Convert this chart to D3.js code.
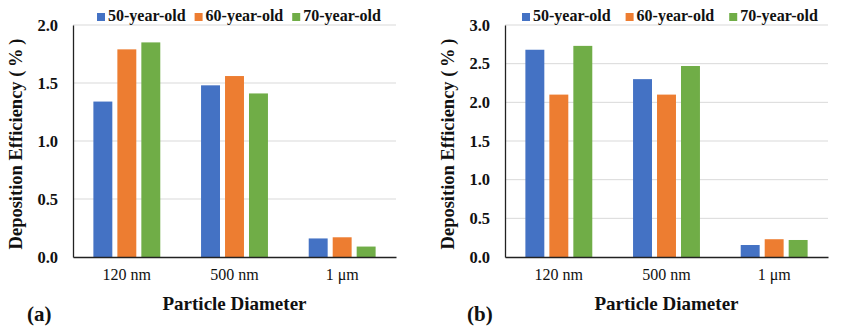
<!DOCTYPE html>
<html>
<head>
<meta charset="utf-8">
<script src="https://cdn.jsdelivr.net/npm/d3@7"></script>
<style>
  body { margin: 0; background: #fff; }
</style>
</head>
<body>
<svg id="chart" width="845" height="329"></svg>
<script>
const categories = ["120 nm", "500 nm", "1 \u03bcm"];
const series = ["50-year-old", "60-year-old", "70-year-old"];
const colors = ["#4472C4", "#ED7D31", "#70AD47"];

// panel (a)
const valuesA = {
    "50-year-old": [1.34, 1.48, 0.16],
    "60-year-old": [1.79, 1.56, 0.17],
    "70-year-old": [1.85, 1.41, 0.09]
};
const ticksA = [0, 0.5, 1.0, 1.5, 2.0];

// panel (b)
const valuesB = {
    "50-year-old": [2.68, 2.30, 0.155],
    "60-year-old": [2.10, 2.10, 0.23],
    "70-year-old": [2.73, 2.47, 0.22]
};
const ticksB = [0, 0.5, 1.0, 1.5, 2.0, 2.5, 3.0];

const FONT = "'Liberation Serif', 'Times New Roman', 'DejaVu Serif', serif";

const svg = d3.select("#chart")
    .attr("font-family", FONT);

function drawPanel(opts) {
    const g = svg.append("g");
    const top = 25, bottom = 257;

    const y = d3.scaleLinear()
        .domain([0, opts.max])
        .range([bottom, top]);

    const x0 = d3.scaleBand()
        .domain(categories)
        .range([opts.left, opts.right]);

    const x1 = d3.scaleBand()
        .domain(series)
        .range([0, x0.bandwidth()])
        .paddingInner(0.21)
        .paddingOuter(0.85);

    // gridlines
    g.append("g")
        .selectAll("line")
        .data(opts.ticks.filter(d => d > 0))
        .enter().append("line")
        .attr("x1", opts.left)
        .attr("x2", opts.right)
        .attr("y1", d => y(d))
        .attr("y2", d => y(d))
        .attr("stroke", "#d9d9d9")
        .attr("stroke-width", 1);

    // bars
    series.forEach(function(s, i) {
        g.append("g")
            .selectAll("rect")
            .data(opts.values[s])
            .enter().append("rect")
            .attr("x", (d, j) => x0(categories[j]) + x1(s))
            .attr("y", d => y(d))
            .attr("width", x1.bandwidth())
            .attr("height", d => bottom - y(d))
            .attr("fill", colors[i]);
    });

    // y axis
    const yAxis = d3.axisLeft(y)
        .tickValues(opts.ticks)
        .tickFormat(d3.format(".1f"))
        .tickSize(0)
        .tickPadding(15);
    const ya = g.append("g")
        .attr("transform", "translate(" + opts.left + ",0)")
        .call(yAxis)
        .attr("font-family", FONT)
        .attr("font-size", 16.5)
        .attr("font-weight", "bold");
    ya.select(".domain").attr("stroke", "#222").attr("stroke-width", 1.3);
    ya.selectAll("text").attr("fill", "#111");

    // x axis
    const xAxis = d3.axisBottom(x0).tickSize(0).tickPadding(12);
    const xa = g.append("g")
        .attr("transform", "translate(0," + bottom + ")")
        .call(xAxis)
        .attr("font-family", FONT)
        .attr("font-size", 16);
    xa.select(".domain").attr("stroke", "#222").attr("stroke-width", 1.5);
    xa.selectAll("text").attr("fill", "#111");

    // axis titles
    g.append("text")
        .attr("transform", "translate(" + (opts.left - 51) + "," + ((top + bottom) / 2 + 3) + ") rotate(-90)")
        .attr("text-anchor", "middle")
        .attr("font-size", 18.5)
        .attr("font-weight", "bold")
        .attr("fill", "#111")
        .text("Deposition Efficiency (\u2009%\u2009)");

    g.append("text")
        .attr("x", (opts.left + opts.right) / 2)
        .attr("y", 310)
        .attr("text-anchor", "middle")
        .attr("font-size", 19)
        .attr("font-weight", "bold")
        .attr("fill", "#111")
        .text("Particle Diameter");

    g.append("text")
        .attr("x", opts.labelX)
        .attr("y", 321)
        .attr("font-size", 21)
        .attr("font-weight", "bold")
        .attr("fill", "#111")
        .text(opts.label);

    // legend
    const leg = g.append("g");
    let lx = opts.legendX;
    series.forEach(function(s, i) {
        leg.append("rect")
            .attr("x", lx)
            .attr("y", 13)
            .attr("width", 8)
            .attr("height", 8)
            .attr("fill", colors[i]);
        const t = leg.append("text")
            .attr("x", lx + 11)
            .attr("y", 21)
            .attr("font-size", 16)
            .attr("font-weight", "bold")
            .attr("fill", "#111")
            .text(s);
        lx += 11 + t.node().getComputedTextLength() + opts.legendGap;
    });
}

drawPanel({
    left: 73, right: 396, max: 2, ticks: ticksA, values: valuesA,
    label: "(a)", labelX: 27, legendX: 97, legendGap: 9
});

drawPanel({
    left: 505, right: 828, max: 3, ticks: ticksB, values: valuesB,
    label: "(b)", labelX: 467, legendX: 522, legendGap: 15
});
</script>
</body>
</html>
